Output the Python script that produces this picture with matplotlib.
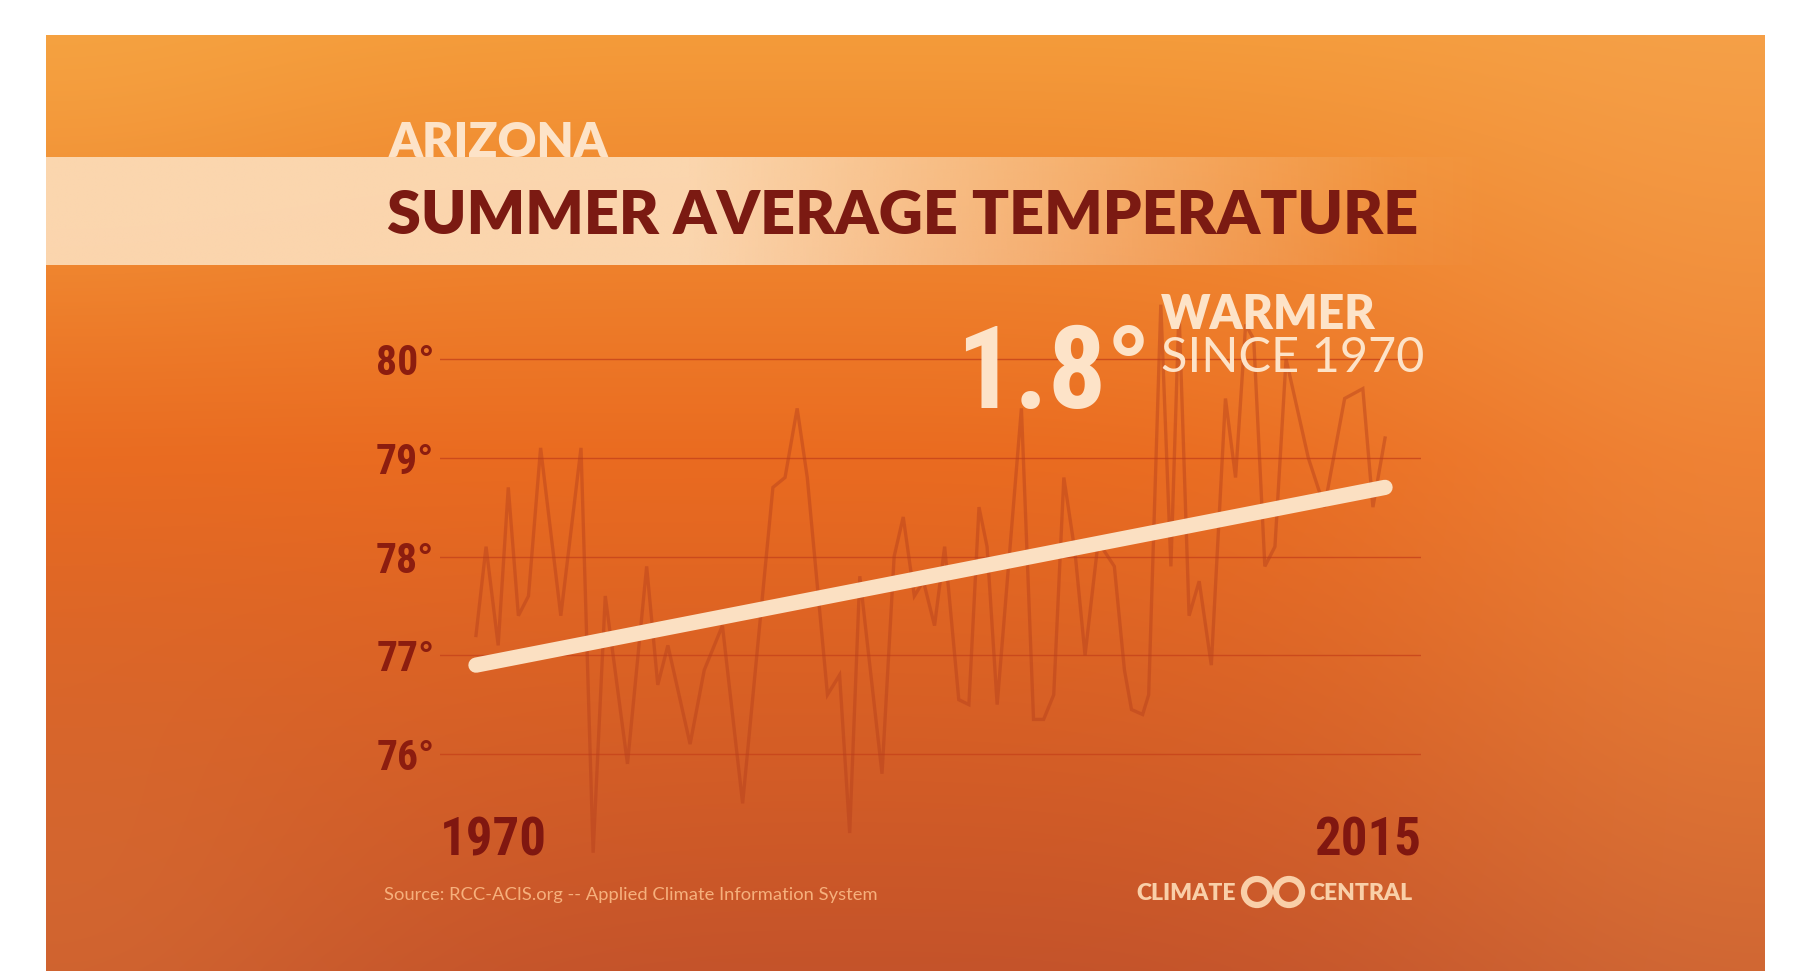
import numpy as np
import matplotlib
matplotlib.use("Agg")
import matplotlib.pyplot as plt
from matplotlib.colors import to_rgb
from matplotlib.patches import Circle

# summer average temperature (deg F)
years = [1970.0, 1970.5, 1971.1, 1971.6, 1972.1, 1972.6, 1973.2, 1974.2, 1975.2, 1975.8,
         1976.4, 1977.5, 1978.45, 1979.0, 1979.5, 1980.6, 1981.3, 1982.2, 1983.2, 1984.3,
         1984.7, 1985.3, 1985.9, 1986.4, 1987.4, 1988.0, 1988.5, 1989.0, 1990.1, 1990.7,
         1991.15, 1991.7, 1992.15, 1992.7, 1993.2, 1993.9, 1994.4, 1994.9, 1995.3, 1995.8,
         1997.0, 1997.6, 1998.1, 1998.6, 1999.1, 1999.65, 2000.15, 2000.8, 2001.6, 2002.1,
         2002.45, 2003.0, 2003.3, 2003.9, 2004.4, 2004.8, 2005.3, 2005.8, 2006.4, 2007.1,
         2007.6, 2008.1, 2008.5, 2009.05, 2009.55, 2010.1, 2011.2, 2012.0, 2013.0, 2013.9,
         2014.4, 2015.0]
temps = [77.2, 78.1, 77.1, 78.7, 77.4, 77.6, 79.1, 77.4, 79.1, 75.0,
         77.6, 75.9, 77.9, 76.7, 77.1, 76.1, 76.85, 77.3, 75.5, 77.85,
         78.7, 78.8, 79.5, 78.8, 76.6, 76.8, 75.2, 77.8, 75.8, 78.0,
         78.4, 77.6, 77.75, 77.3, 78.1, 76.55, 76.5, 78.5, 78.1, 76.5,
         79.5, 76.35, 76.35, 76.6, 78.8, 78.05, 77.0, 78.15, 77.9, 76.85,
         76.45, 76.4, 76.6, 80.55, 77.9, 80.5, 77.4, 77.75, 76.9, 79.6,
         78.8, 80.35, 80.2, 77.9, 78.1, 80.0, 79.0, 78.5, 79.6, 79.7,
         78.5, 79.2]
trend_years = [1970, 2015]
trend_temps = [76.9, 78.7]

y_ticks = [76, 77, 78, 79, 80]
y_labels = ['76°', '77°', '78°', '79°', '80°']
first_year, last_year = '1970', '2015'

W, H = 1793, 971
fig = plt.figure(figsize=(W / 100, H / 100), dpi=100)
fig.patch.set_facecolor('white')

# background axes in pixel coordinates
bg = fig.add_axes([0, 0, 1, 1])
bg.set_xlim(0, W)
bg.set_ylim(H, 0)
bg.axis('off')

# orange panel gradient
px0, px1, py0, py1 = 46, 1765, 35, 971
nx, ny = 400, 240
u = np.linspace(0, 1, nx)[None, :]
v = np.linspace(0, 1, ny)[:, None]
top = np.array(to_rgb('#f49b3a'))
mid = np.array(to_rgb('#ea6b20'))
bot = np.array(to_rgb('#c4532a'))
vv = v[..., None] + np.zeros((ny, nx, 1))
img = np.where(vv < 0.45, top + (mid - top) * (vv / 0.45),
               mid + (bot - mid) * ((vv - 0.45) / 0.55))
r = np.exp(-((u - 1.0) ** 2) / 0.05) * (1 - 0.55 * v)
light = np.array(to_rgb('#f6a452'))
img = img * (1 - 0.55 * r[..., None]) + light * 0.55 * r[..., None]
l = np.exp(-(u ** 2 / 0.04 + (v - 0.95) ** 2 / 0.12))
ll = np.array(to_rgb('#dc7436'))
img = img * (1 - 0.5 * l[..., None]) + ll * 0.5 * l[..., None]
tl = np.exp(-(u ** 2 / 0.03 + v ** 2 / 0.05))
img = img * (1 - 0.35 * tl[..., None]) + np.array(to_rgb('#f7ae4c')) * 0.35 * tl[..., None]
bg.imshow(np.clip(img, 0, 1), extent=(px0, px1, py1, py0), aspect='auto',
          interpolation='bicubic', zorder=0)

# title band fading to the right
xs = np.linspace(px0, px1, nx)
band = np.zeros((1, nx, 4))
band[..., :3] = to_rgb('#fcdcb8')
band[0, :, 3] = np.interp(xs, [46, 690, 1400, 1500], [0.93, 0.93, 0.06, 0.0])
bg.imshow(band, extent=(px0, px1, 265, 157), aspect='auto',
          interpolation='bilinear', zorder=1)

cream = '#fde3c8'
maroon = '#7b1a12'
narrow = ['Roboto Condensed', 'DejaVu Sans']
geo = ['Lato', 'DejaVu Sans']

bg.text(389, 157, 'ARIZONA', color=cream, fontsize=34.5, fontweight='heavy',
        family=geo, va='baseline', ha='left', zorder=2)
bg.text(387, 234, 'SUMMER AVERAGE TEMPERATURE', color=maroon, fontsize=44,
        fontweight='heavy', family=geo, va='baseline', ha='left', zorder=3)

# data axes
y_lo, y_hi = 74.8, 80.8
ax = fig.add_axes([440 / W, 1 - 872.5 / H, 981 / W, 592.5 / H])
ax.patch.set_alpha(0)
ax.set_xlim(1968.22, 2016.78)
ax.set_ylim(y_lo, y_hi)
for s in ax.spines.values():
    s.set_visible(False)
ax.set_xticks([])
ax.set_yticks(y_ticks, y_labels)
ax.tick_params(axis='y', length=0, pad=4, labelcolor='#8c1d0f', labelsize=30)
for lab in ax.get_yticklabels():
    lab.set_family(narrow)
    lab.set_fontweight('bold')
for t in y_ticks:
    ax.axhline(t, color='#c8451b', lw=1.0, alpha=0.85, zorder=1)

ax.plot(years, temps, color='#b63f1c', lw=2.4, alpha=0.45, zorder=2,
        solid_joinstyle='miter')
ax.plot(trend_years, trend_temps, color='#fbe0c2', lw=11, solid_capstyle='round',
        zorder=3)

# year labels
bg.text(440, 855, first_year, color='#801710', fontsize=38, fontweight='bold',
        family=narrow, va='baseline', ha='left', zorder=3)
bg.text(1421, 855, last_year, color='#801710', fontsize=38, fontweight='bold',
        family=narrow, va='baseline', ha='right', zorder=3)

# headline number, drawn above the data line
fig.text(956, 408, '1.8°', color=cream, fontsize=83, fontweight='bold',
         family=narrow, va='baseline', ha='left', transform=bg.transData)
fig.text(1161, 329, 'WARMER', color=cream, fontsize=33.5, fontweight='heavy',
         family=geo, va='baseline', ha='left', transform=bg.transData)
fig.text(1161, 372, 'SINCE 1970', color=cream, fontsize=35,
         family=geo, va='baseline', ha='left', transform=bg.transData)

# footer
bg.text(384, 900, 'Source: RCC-ACIS.org -- Applied Climate Information System',
        color='#f6b07c', fontsize=13.2, family=geo, va='baseline', ha='left', zorder=3)
bg.text(1236, 900, 'CLIMATE', color='#f9cfa8', fontsize=16.5, fontweight='heavy',
        family=geo, va='baseline', ha='right', zorder=3)
bg.text(1309, 900, 'CENTRAL', color='#f9cfa8', fontsize=16.5, fontweight='heavy',
        family=geo, va='baseline', ha='left', zorder=3)
for cx in (1257, 1289):
    bg.add_patch(Circle((cx, 892), 13, fill=False, ec='#f9cfa8', lw=4.5, zorder=3))

fig.savefig('out.png', dpi=100)
